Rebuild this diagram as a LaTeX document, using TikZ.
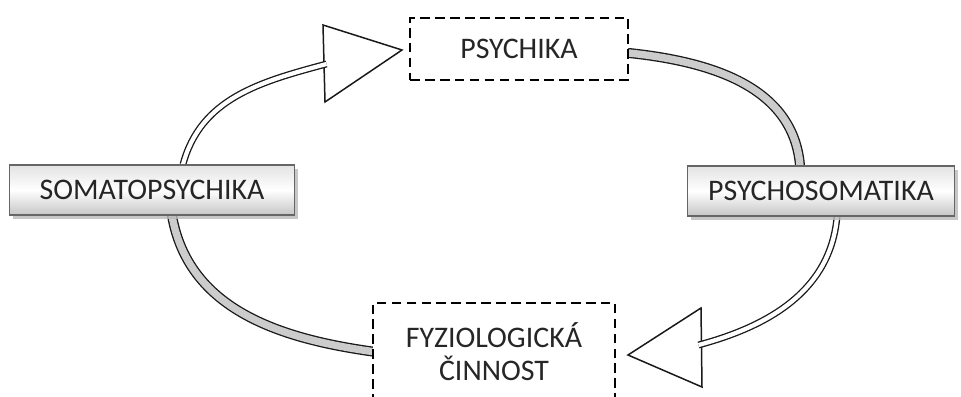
\documentclass[tikz,border=0pt]{standalone}
\usepackage{fontspec}
\setmainfont{Carlito}
\usetikzlibrary{positioning}
\usetikzlibrary{shadows}

\pgfdeclarelayer{background}
\pgfsetlayers{background,main}

\begin{document}
\begin{tikzpicture}[
  shadedbox/.style={draw=gray!80!black, line width=0.7pt, minimum height=1cm,
    top color=gray!22, bottom color=gray!45, middle color=white,
    drop shadow={shadow xshift=2.2pt, shadow yshift=-2.2pt, fill=gray!55, opacity=0.8},
    font=\fontsize{17}{20}\selectfont, text=black!85},
  dashbox/.style={draw, line width=0.9pt, dash pattern=on 5.5pt off 3pt, fill=white,
    font=\fontsize{17}{19}\selectfont, text=black!85, align=center},
  hollow/.style={draw=black!90, line width=0.75pt, double=white, double distance=2.4pt},
  band/.style={draw=black!90, line width=0.75pt, double=gray!40, double distance=4.2pt, line cap=round},
  headtip/.style={draw=black!90, line width=0.85pt, fill=white, line join=miter}
]

\useasboundingbox (0,0) rectangle (19.22,7.94);

% points where the shafts meet the heads
\coordinate (topbase) at (6.53,6.66);
\coordinate (botbase) at (13.97,1.04);

% nodes
{
\node[shadedbox, minimum width=5.7cm] (soma) at (3.04,4.14) {SOMATOPSYCHIKA};
\node[shadedbox, minimum width=5.34cm] (psom) at (16.42,4.12) {PSYCHOSOMATIKA};

\node[dashbox, minimum width=4.36cm, minimum height=1.24cm] (psy) at (10.38,6.96) {PSYCHIKA};
\node[dashbox, minimum width=4.84cm, minimum height=1.94cm] (fyz) at (9.88,0.91) {FYZIOLOGICKÁ\\ČINNOST};
}

% connectors
\begin{pgfonlayer}{background}
\draw[headtip] (6.46,7.44) -- (8.04,6.94) -- (6.50,5.90) -- cycle;
\draw[hollow] ([xshift=0.62cm]soma.north) to[out=75,in=195] (topbase);

\draw[headtip] (14.02,1.78) -- (12.56,0.84) -- (14.04,0.20) -- cycle;
\draw[hollow] ([xshift=0.32cm]psom.south) to[out=265,in=15] (botbase);

\draw[band] ([yshift=-0.08cm]psy.east) to[out=-6,in=95] ([xshift=-0.42cm]psom.north);
\draw[band] ([xshift=0.4cm]soma.south) to[out=-80,in=172] (fyz.west);
\end{pgfonlayer}

\end{tikzpicture}
\end{document}
